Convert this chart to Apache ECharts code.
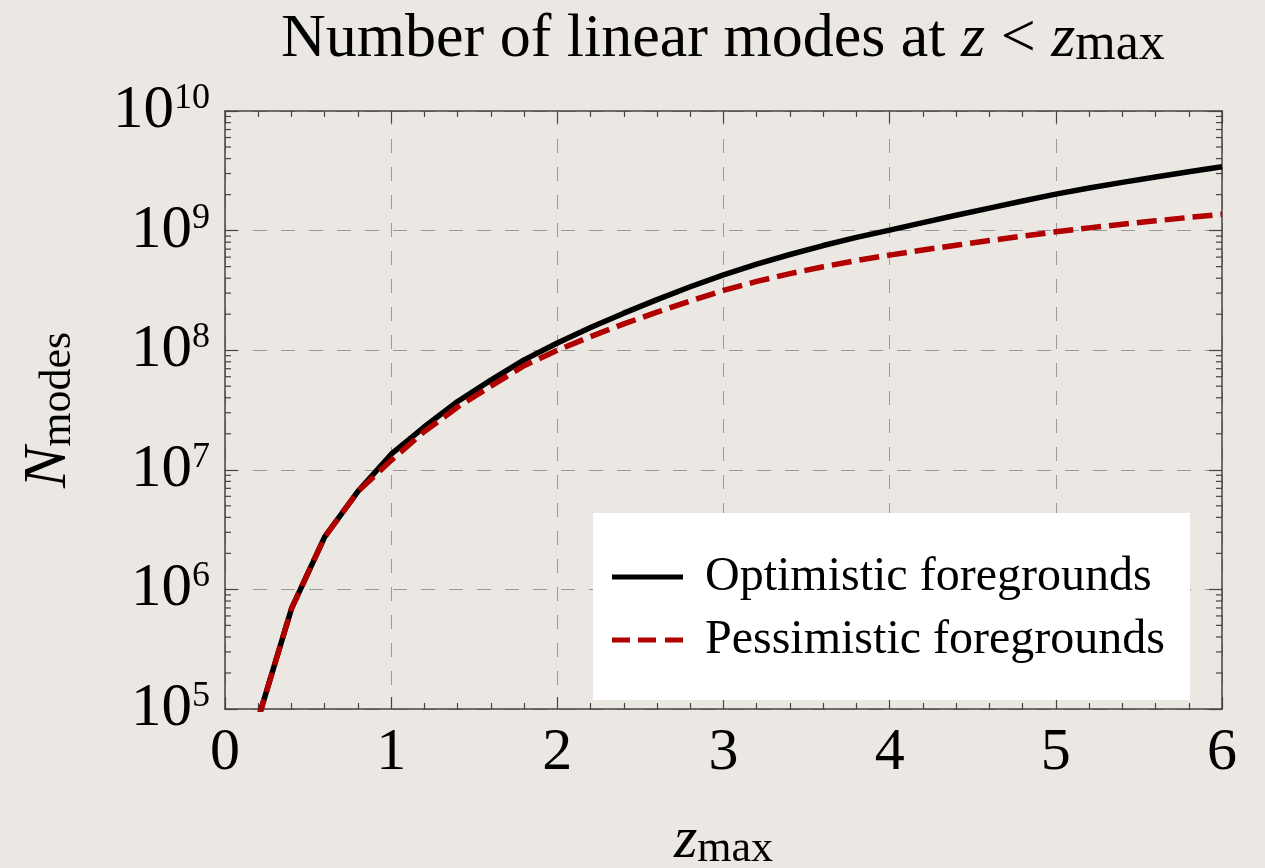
<!DOCTYPE html>
<html><head><meta charset="utf-8">
<script src="https://cdn.jsdelivr.net/npm/echarts@6/dist/echarts.min.js"></script>
<style>html,body{margin:0;padding:0;background:#ebe8e3}#c{width:1265px;height:868px}</style>
</head><body><div id="c"></div>
<script>
// ---- data ----
const zValues = [0.2,0.4,0.6,0.8,1.0,1.2,1.4,1.6,1.8,2.0,2.2,2.4,2.6,2.8,3.0,3.2,3.4,3.6,3.8,4.0,4.2,4.4,4.6,4.8,5.0,5.2,5.4,5.6,5.8,6.0];
const optimistic = [8.3e4,6.9e5,2.75e6,6.6e6,1.35e7,2.29e7,3.72e7,5.62e7,8.3e7,1.15e8,1.55e8,2.04e8,2.65e8,3.39e8,4.27e8,5.25e8,6.31e8,7.5e8,8.77e8,1.01e9,1.167e9,1.343e9,1.542e9,1.766e9,2.018e9,2.27e9,2.53e9,2.81e9,3.10e9,3.42e9];
const pessimistic = [8.3e4,6.9e5,2.75e6,6.6e6,1.2e7,2.09e7,3.35e7,5.01e7,7.41e7,1.0e8,1.30e8,1.66e8,2.08e8,2.58e8,3.16e8,3.76e8,4.37e8,4.99e8,5.62e8,6.24e8,6.89e8,7.55e8,8.26e8,8.99e8,9.77e8,1.054e9,1.13e9,1.208e9,1.288e9,1.368e9];
const seriesNames = ['Optimistic foregrounds','Pessimistic foregrounds'];
const xTicks = [0,1,2,3,4,5,6];
const yDecades = [5,6,7,8,9,10];
const minorMultipliers = [2,3,4,5,6,7,8,9];
const minorTickValues = [];
yDecades.slice(0,-1).forEach(d => minorMultipliers.forEach(m => minorTickValues.push(m*Math.pow(10,d))));

const FF = "'Liberation Serif','DejaVu Serif',serif";
const frame = '#444';
const chart = echarts.init(document.getElementById('c'));

const xBase = {
  type:'value', min:xTicks[0], max:xTicks[xTicks.length-1], interval:1,
  axisLine:{show:true, onZero:false, lineStyle:{color:frame, width:1.5}},
  axisTick:{show:true, inside:true, length:12, lineStyle:{color:frame, width:1.2}},
  minorTick:{show:true, splitNumber:5, length:6, lineStyle:{color:frame, width:1.2}}
};
const yBase = {
  type:'log', logBase:10, min:Math.pow(10,yDecades[0]), max:Math.pow(10,yDecades[yDecades.length-1]),
  axisLine:{show:true, onZero:false, lineStyle:{color:frame, width:1.5}},
  axisTick:{show:true, inside:true, length:13, lineStyle:{color:frame, width:1.2}}
};

chart.setOption({
  backgroundColor:'#ebe8e3',
  animation:false,
  title:{
    left:276, top:4,
    text:'{n|Number of linear modes at }{i|z}{n| < }{i|z}{s|max}',
    textStyle:{
      fontWeight:'normal',
      rich:{
        n:{fontFamily:FF, fontSize:62, fontWeight:'normal', color:'#000'},
        i:{fontFamily:FF, fontSize:62, fontWeight:'normal', fontStyle:'italic', color:'#000'},
        s:{fontFamily:FF, fontSize:52, fontWeight:'normal', color:'#000', verticalAlign:'bottom', lineHeight:26}
      }
    }
  },
  grid:{left:225, right:43, top:111, bottom:159, containLabel:false, outerBoundsMode:'none'},
  legend:{
    orient:'vertical', left:593, top:513,
    backgroundColor:'#fff', padding:[39,25,35,19],
    itemWidth:71, itemHeight:5, itemGap:13,
    textStyle:{fontFamily:FF, fontSize:48, color:'#000', lineHeight:50, padding:[0,0,0,17]},
    data:[
      {name:seriesNames[0], icon:'rect'},
      {name:seriesNames[1], icon:'path://M0,0H18V5H0Z M26,0H44V5H26Z M53,0H71V5H53Z'}
    ]
  },
  xAxis:[
    Object.assign({}, xBase, {
      position:'bottom',
      splitLine:{show:true, lineStyle:{color:'#999', width:1, type:[14,14]}},
      axisLabel:{fontFamily:FF, fontSize:60, color:'#000', margin:14},
      name:'{i|z}{s|max}', nameLocation:'middle', nameGap:102,
      nameTextStyle:{rich:{
        i:{fontFamily:FF, fontSize:60, fontStyle:'italic', color:'#000'},
        s:{fontFamily:FF, fontSize:44, color:'#000', verticalAlign:'bottom', lineHeight:20}
      }}
    }),
    Object.assign({}, xBase, {position:'top', axisLabel:{show:false}, splitLine:{show:false}})
  ],
  yAxis:[
    Object.assign({}, yBase, {
      position:'left',
      splitLine:{show:true, lineStyle:{color:'#999', width:1, type:[14,14]}},
      axisLabel:{
        margin:15,
        formatter: v => '{b|10}{e|' + Math.round(Math.log10(v)) + '}',
        rich:{
          b:{fontFamily:FF, fontSize:61, color:'#000'},
          e:{fontFamily:FF, fontSize:36, color:'#000', verticalAlign:'top', lineHeight:24}
        }
      },
      name:'{i|N}{s|modes}', nameLocation:'middle', nameGap:145, nameRotate:90,
      nameTextStyle:{rich:{
        i:{fontFamily:FF, fontSize:62, fontStyle:'italic', color:'#000'},
        s:{fontFamily:FF, fontSize:44, color:'#000', verticalAlign:'bottom', lineHeight:20}
      }}
    }),
    Object.assign({}, yBase, {position:'right', axisLabel:{show:false}, splitLine:{show:false}})
  ],
  series:[
    {
      name:seriesNames[0], type:'line', xAxisIndex:0, yAxisIndex:0,
      data:zValues.map((z,i)=>[z, optimistic[i]]),
      symbol:'none', clip:true, z:3,
      lineStyle:{color:'#000', width:5.5}, itemStyle:{color:'#000'}
    },
    {
      name:seriesNames[1], type:'line', xAxisIndex:0, yAxisIndex:0,
      data:zValues.map((z,i)=>[z, pessimistic[i]]),
      symbol:'none', clip:true, z:4,
      lineStyle:{color:'#b00000', width:5.5, type:[20,8]}, itemStyle:{color:'#b00000'}
    },
    {
      type:'custom', silent:true, xAxisIndex:0, yAxisIndex:0, z:5,
      data:minorTickValues.map(v=>[xTicks[0], v]),
      renderItem:(params, api) => {
        const v = api.value(1);
        const l = api.coord([xTicks[0], v]);
        const r = api.coord([xTicks[xTicks.length-1], v]);
        const st = {stroke:frame, lineWidth:1.2};
        return {type:'group', children:[
          {type:'line', shape:{x1:l[0], y1:l[1], x2:l[0]+6, y2:l[1]}, style:st},
          {type:'line', shape:{x1:r[0]-6, y1:r[1], x2:r[0], y2:r[1]}, style:st}
        ]};
      }
    }
  ]
});
</script></body></html>
